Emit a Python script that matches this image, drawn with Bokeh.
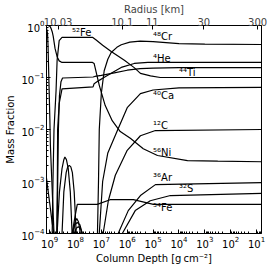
from bokeh.plotting import figure
from bokeh.models import Range1d, FixedTicker, LogAxis, CustomJSTickFormatter
from bokeh.embed import file_html
from bokeh.resources import INLINE

# Values as log10(column depth) and log10(mass fraction)
ni56_lx = [9.12, 9.06, 8.98, 8.94, 8.90, 8.86, 8.79, 8.71, 8.63, 8.52, 7.34, 7.28, 7.08, 6.85, 6.58, 6.27, 5.88, 5.38, 4.83, 3.67, 2.50, 0.80]
ni56_ly = [0.0, 0.0, -0.02, -0.06, -0.12, -0.21, -0.44, -0.60, -0.68, -0.71, -0.71, -0.73, -1.15, -1.54, -1.83, -2.04, -2.17, -2.37, -2.50, -2.60, -2.61, -2.62]
fe52_lx = [8.93, 8.90, 8.87, 8.83, 8.75, 8.71, 8.63, 8.52, 7.33, 7.20, 6.95, 6.62, 6.11, 5.73, 5.49, 5.10, 4.72, 4.00, 0.80]
fe52_ly = [-5.0, -4.0, -3.0, -2.0, -1.25, -0.67, -0.29, -0.23, -0.23, -0.28, -0.38, -0.50, -0.67, -0.81, -0.92, -0.97, -1.0, -1.0, -1.0]
cr48_lx = [7.20, 7.15, 7.11, 7.08, 7.00, 6.89, 6.75, 6.62, 6.40, 6.23, 5.90, 5.50, 5.00, 4.50, 4.00, 3.00, 0.80]
cr48_ly = [-5.0, -4.0, -3.0, -2.0, -1.30, -0.87, -0.65, -0.52, -0.42, -0.37, -0.32, -0.30, -0.31, -0.33, -0.35, -0.36, -0.365]
he4_lx = [9.12, 9.00, 8.90, 8.83, 8.80, 8.72, 8.70, 8.69, 8.63, 8.52, 7.32, 7.28, 7.10, 6.90, 6.62, 6.20, 5.73, 5.20, 0.80]
he4_ly = [-2.94, -3.40, -3.80, -4.00, -5.0, -4.0, -3.0, -2.0, -1.50, -1.22, -1.18, -1.12, -1.06, -1.00, -0.92, -0.80, -0.73, -0.71, -0.71]
ti44_lx = [8.74, 8.70, 8.66, 8.62, 8.56, 8.50, 7.32, 7.25, 7.00, 6.50, 6.00, 5.50, 5.00, 4.00, 0.80]
ti44_ly = [-5.0, -3.5, -2.0, -1.35, -1.08, -1.01, -0.99, -0.98, -0.96, -0.91, -0.86, -0.83, -0.82, -0.81, -0.81]
ca40_lx = [8.56, 8.52, 8.45, 8.36, 8.30, 8.24, 8.18, 8.12, 8.05, 7.97, 7.93, 7.14, 7.08, 6.95, 6.75, 6.38, 6.00, 5.49, 5.00, 4.00, 0.80]
ca40_ly = [-5.0, -4.0, -3.2, -2.83, -2.72, -2.69, -2.72, -2.83, -3.2, -4.0, -5.0, -5.0, -4.0, -3.0, -2.45, -2.02, -1.58, -1.31, -1.24, -1.20, -1.19]
c12_lx = [8.75, 8.71, 8.62, 8.52, 8.45, 8.41, 8.35, 8.28, 8.20, 8.13, 8.09, 7.05, 6.93, 6.73, 6.46, 6.00, 5.49, 4.91, 0.80]
c12_ly = [-5.0, -4.0, -3.2, -2.75, -2.58, -2.53, -2.58, -2.75, -3.2, -4.0, -5.0, -5.0, -4.0, -3.37, -2.88, -2.40, -2.12, -2.02, -2.0]
ar36_lx = [8.17, 8.13, 8.03, 7.93, 7.83, 7.74, 7.70, 6.45, 6.35, 5.96, 5.49, 4.91, 0.80]
ar36_ly = [-5.0, -4.0, -3.83, -3.79, -3.83, -4.0, -5.0, -5.0, -4.0, -3.56, -3.27, -3.06, -3.02]
s32_lx = [8.10, 8.05, 7.97, 7.89, 7.81, 7.73, 7.69, 6.30, 6.19, 5.69, 5.11, 4.33, 0.80]
s32_ly = [-5.0, -4.0, -3.9, -3.87, -3.9, -4.0, -5.0, -5.0, -4.0, -3.56, -3.37, -3.27, -3.23]
fe54_lx = [8.20, 8.13, 8.01, 7.93, 7.16, 6.66, 5.76, 4.99, 0.80]
fe54_ly = [-5.0, -4.0, -3.65, -3.44, -3.44, -3.35, -3.35, -3.44, -3.44]
# unlabelled traces that only show in the deepest layers
deep1_lx = [9.12, 9.08, 9.06, 9.04, 9.02, 8.99, 8.97, 8.93, 8.88, 8.83, 8.80]
deep1_ly = [-0.05, -0.15, -0.40, -0.80, -1.20, -1.80, -2.30, -2.80, -3.40, -4.0, -5.0]
deep2_lx = [8.12, 8.08, 8.02, 7.95, 7.88, 7.81, 7.77]
deep2_ly = [-5.0, -4.0, -3.78, -3.71, -3.78, -4.0, -5.0]

species = [
    (ni56_lx, ni56_ly), (fe52_lx, fe52_ly), (cr48_lx, cr48_ly), (he4_lx, he4_ly),
    (ti44_lx, ti44_ly), (ca40_lx, ca40_ly), (c12_lx, c12_ly), (ar36_lx, ar36_ly),
    (s32_lx, s32_ly), (fe54_lx, fe54_ly), (deep1_lx, deep1_ly), (deep2_lx, deep2_ly),
]

label_text = ["⁵²Fe", "⁴⁸Cr", "⁴He", "⁴⁴Ti", "⁴⁰Ca", "¹²C", "⁵⁶Ni", "³⁶Ar", "³²S", "⁵⁴Fe"]
label_x = [1.35e8, 1e5, 1e5, 1e4, 1e5, 1e5, 1e5, 1e5, 1e4, 1e5]
label_y = [0.74, 0.62, 0.235, 0.126, 0.045, 0.012, 3.6e-3, 1.2e-3, 7.4e-4, 3.2e-4]

radius_labels = ["10.03", "10.1", "11", "30", "300"]
radius_depth = [4.7e8, 1.55e6, 1.07e5, 1.1e3, 9.1]

x_ticks = [1e1, 1e2, 1e3, 1e4, 1e5, 1e6, 1e7, 1e8, 1e9]
y_ticks = [1e-4, 1e-3, 1e-2, 1e-1, 1.0]

FONT = "DejaVu Sans"

p = figure(width=275, height=268, x_axis_type="log", y_axis_type="log",
           x_range=Range1d(10**9.12, 10**0.81), y_range=Range1d(1e-4, 1.0),
           output_backend="svg", toolbar_location=None,
           min_border_left=46, min_border_right=14, min_border_top=25, min_border_bottom=35)
p.xgrid.visible = False
p.ygrid.visible = False
p.outline_line_color = "black"
p.outline_line_width = 1
p.background_fill_color = "white"
p.border_fill_color = "white"

p.title.text = "Radius [km]"
p.title.align = "center"
p.title.text_font = FONT
p.title.text_font_size = "10px"
p.title.text_font_style = "normal"
p.title.standoff = 0
p.title.offset = 0

xminor = [m * t for t in [1e0] + x_ticks for m in range(2, 10)]
yminor = [m * t for t in [1e-5] + y_ticks for m in range(2, 10)]
p.xaxis.ticker = FixedTicker(ticks=x_ticks, minor_ticks=xminor)
p.yaxis.ticker = FixedTicker(ticks=y_ticks, minor_ticks=yminor)

for ax in [p.xaxis[0], p.yaxis[0]]:
    ax.major_label_text_font = FONT
    ax.major_label_text_font_size = "10px"
    ax.major_label_text_color = "black"
    ax.axis_label_text_font = FONT
    ax.axis_label_text_font_size = "10px"
    ax.axis_label_text_font_style = "normal"
    ax.axis_label_text_color = "black"
    ax.major_tick_in = 4
    ax.major_tick_out = 0
    ax.minor_tick_in = 2
    ax.minor_tick_out = 0
    ax.major_label_standoff = 2
    ax.axis_label_standoff = 2
    ax.axis_line_color = "black"

p.xaxis.axis_label = "Column Depth [g\u2009cm\u207b\u00b2]"
p.yaxis.axis_label = "Mass Fraction"

top = LogAxis(ticker=FixedTicker(ticks=radius_depth, minor_ticks=[]),
              formatter=CustomJSTickFormatter(args=dict(vals=radius_depth, labs=radius_labels), code="""
let best = 0; let d = Infinity;
for (let i = 0; i < vals.length; i++) {
  const e = Math.abs(Math.log10(vals[i]) - Math.log10(tick));
  if (e < d) { d = e; best = i; }
}
return labs[best];
"""))
top.major_label_text_font = FONT
top.major_label_text_font_size = "10px"
top.major_tick_in = 4
top.major_tick_out = 0
top.minor_tick_in = 0
top.minor_tick_out = 0
top.major_label_standoff = 0
p.add_layout(top, "above")

for lx, ly in species:
    p.line([10**v for v in lx], [10**v for v in ly], line_color="black", line_width=1.2)

p.text(x=label_x, y=label_y, text=label_text, text_font_size="10px",
       text_align="left", text_baseline="middle", text_color="black",
       text_font={"value": FONT})

open("out.html", "w").write(file_html(p, INLINE))
